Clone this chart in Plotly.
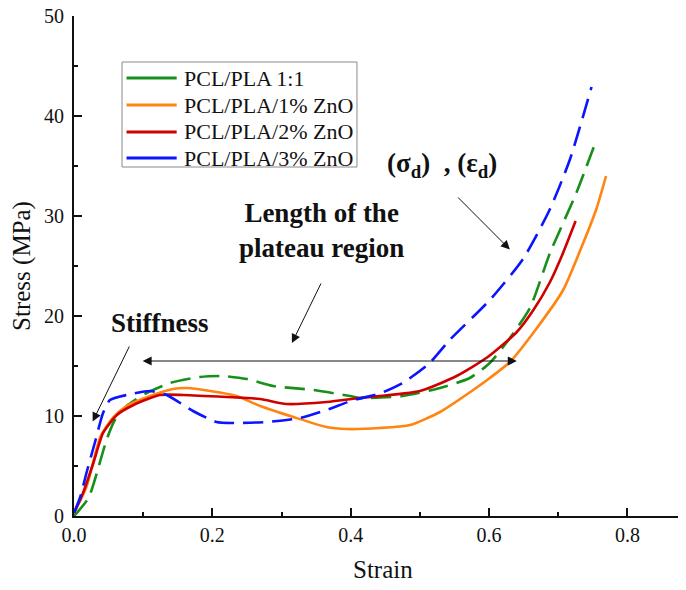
import plotly.graph_objects as go

# ---- data ----
names = ["PCL/PLA 1:1", "PCL/PLA/1% ZnO", "PCL/PLA/2% ZnO", "PCL/PLA/3% ZnO"]
colors = ["#17901a", "#ff8410", "#d00000", "#0a14ff"]
dashes = ["20px,9px", "solid", "solid", "20px,9px"]

green_x = [0.0, 0.004, 0.021, 0.030, 0.047, 0.059, 0.076, 0.105, 0.139, 0.182, 0.215, 0.25,
           0.288, 0.346, 0.399, 0.413, 0.475, 0.529, 0.572, 0.601, 0.630, 0.659, 0.688, 0.726, 0.755]
green_y = [0.0, 0.3, 1.8, 3.6, 7.6, 9.6, 11.0, 12.3, 13.3, 13.9, 14.0, 13.7,
           13.0, 12.6, 12.0, 11.8, 12.0, 12.8, 13.8, 15.3, 17.8, 20.8, 26.3, 32.3, 37.6]

orange_x = [0.0, 0.018, 0.038, 0.057, 0.076, 0.11, 0.143, 0.163, 0.197, 0.235, 0.269, 0.317,
            0.365, 0.394, 0.442, 0.486, 0.529, 0.577, 0.601, 0.63, 0.668, 0.707, 0.736, 0.755, 0.769]
orange_y = [0.3, 2.9, 7.9, 9.9, 11.0, 12.0, 12.7, 12.8, 12.5, 12.0, 11.0, 9.9,
            8.9, 8.7, 8.8, 9.1, 10.4, 12.6, 13.8, 15.4, 18.7, 22.6, 27.3, 30.7, 34.0]

red_x = [0.0, 0.013, 0.028, 0.042, 0.062, 0.086, 0.124, 0.158, 0.22, 0.269, 0.307, 0.365,
         0.413, 0.5, 0.553, 0.598, 0.64, 0.664, 0.688, 0.705, 0.725]
red_y = [0.3, 2.3, 5.3, 8.3, 10.1, 11.1, 12.1, 12.1, 11.9, 11.7, 11.2, 11.4,
         11.8, 12.5, 14.0, 15.9, 18.4, 20.6, 23.4, 26.0, 29.5]

blue_x = [0.0, 0.009, 0.018, 0.030, 0.042, 0.052, 0.076, 0.11, 0.134, 0.172, 0.206, 0.23,
          0.278, 0.327, 0.365, 0.404, 0.440, 0.475, 0.514, 0.543, 0.601, 0.649, 0.688, 0.717, 0.748]
blue_y = [0.3, 1.9, 4.3, 7.3, 10.3, 11.6, 12.1, 12.5, 12.1, 10.5, 9.4, 9.3,
          9.4, 9.8, 10.6, 11.6, 12.2, 13.3, 15.3, 17.6, 21.6, 25.7, 30.7, 35.7, 42.9]

series_x = [green_x, orange_x, red_x, blue_x]
series_y = [green_y, orange_y, red_y, blue_y]

x_ticks = [0.0, 0.2, 0.4, 0.6, 0.8]
x_tick_text = ["0.0", "0.2", "0.4", "0.6", "0.8"]
y_ticks = [0, 10, 20, 30, 40, 50]
y_tick_text = ["0", "10", "20", "30", "40", "50"]
x_title = "Strain"
y_title = "Stress (MPa)"

FONT = "Liberation Serif, Times New Roman, serif"
black = "#111111"

fig = go.Figure()
for name, c, d, xs, ys in zip(names, colors, dashes, series_x, series_y):
    fig.add_trace(go.Scatter(x=xs, y=ys, mode="lines", name=name, showlegend=False,
                             line=dict(color=c, width=2.6, dash=d, shape="spline", smoothing=0.6)))

ann = []
shapes = []

# ---- legend box drawn by hand (solid samples, tight spacing as in reference) ----
shapes.append(dict(type="rect", xref="paper", yref="paper", x0=0.0795, x1=0.4685, y0=0.698, y1=0.908,
                   line=dict(color="#8a8a8a", width=1), fillcolor="white", layer="above"))
leg_y = [0.876, 0.822, 0.768, 0.716]
for name, c, ly in zip(names, colors, leg_y):
    shapes.append(dict(type="line", xref="paper", yref="paper", x0=0.087, x1=0.170, y0=ly, y1=ly,
                       line=dict(color=c, width=3), layer="above"))
    ann.append(dict(x=0.179, y=ly, xref="paper", yref="paper", text=name, showarrow=False,
                    xanchor="left", yanchor="middle",
                    font=dict(family=FONT, size=22, color=black)))

# ---- x axis title ----
ann.append(dict(x=0.512, y=-0.106, xref="paper", yref="paper", text=x_title, showarrow=False,
                xanchor="center", yanchor="middle", font=dict(family=FONT, size=25, color=black)))

# ---- text annotations ----
ann.append(dict(x=0.124, y=19.3, xref="x", yref="y", text="<b>Stiffness</b>", showarrow=False,
                font=dict(family=FONT, size=27, color=black)))
ann.append(dict(x=0.358, y=28.6, xref="x", yref="y", text="<b>Length of the<br>plateau region</b>",
                showarrow=False, font=dict(family=FONT, size=27, color=black)))
ann.append(dict(x=0.532, y=35.1, xref="x", yref="y",
                text="<b>(σ<sub>d</sub>)  , (ε<sub>d</sub>)</b>", showarrow=False,
                font=dict(family=FONT, size=27, color=black)))
# ---- arrows ----
arrow_common = dict(xref="x", yref="y", axref="x", ayref="y", text="", showarrow=True,
                    arrowhead=2, arrowsize=1.8, arrowwidth=1, arrowcolor=black)
ann.append(dict(x=0.027, y=9.45, ax=0.081, ay=17.1, **arrow_common))
ann.append(dict(x=0.315, y=17.3, ax=0.358, ay=23.4, **arrow_common))
ann.append(dict(x=0.630, y=26.65, ax=0.553, ay=32.0, **arrow_common))
ann.append(dict(x=0.640, y=15.5, ax=0.097, ay=15.5, arrowside="end+start", **arrow_common))

# page body has an 8px margin: figure is 670x574 placed at (8,8)
fig.update_layout(
    width=670, height=574,
    margin=dict(l=66, r=0, t=8, b=66, autoexpand=False),
    paper_bgcolor="white", plot_bgcolor="white",
    font=dict(family=FONT, size=20, color=black),
    annotations=ann, shapes=shapes, showlegend=False,
    xaxis=dict(range=[0, 0.873], tickmode="array", tickvals=x_ticks, ticktext=x_tick_text,
               ticks="inside", ticklen=8, tickwidth=1.5, tickcolor=black,
               minor=dict(ticks="inside", dtick=0.1, ticklen=4, tickwidth=1.5, tickcolor=black),
               showline=True, linecolor=black, linewidth=2, showgrid=False, zeroline=False,
               tickfont=dict(family=FONT, size=20, color=black), automargin=False,
               ticklabeloverflow="allow"),
    yaxis=dict(range=[0, 50], tickmode="array", tickvals=y_ticks, ticktext=y_tick_text,
               ticks="inside", ticklen=8, tickwidth=1.5, tickcolor=black,
               minor=dict(ticks="inside", dtick=5, ticklen=4, tickwidth=1.5, tickcolor=black),
               showline=True, linecolor=black, linewidth=2, showgrid=False, zeroline=False,
               tickfont=dict(family=FONT, size=20, color=black), automargin=False,
               ticklabeloverflow="allow", ticklabelstandoff=4,
               title=dict(text=y_title, font=dict(family=FONT, size=25, color=black), standoff=10)),
)

fig.write_html("out.html")
